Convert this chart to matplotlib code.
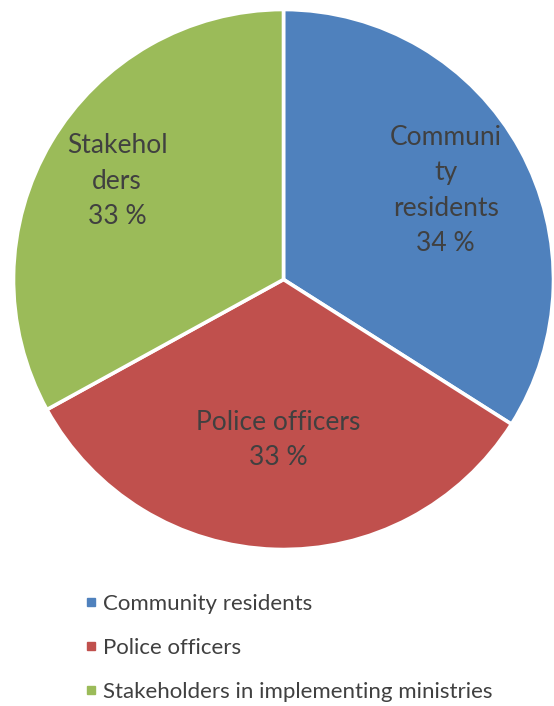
import matplotlib
matplotlib.use("Agg")
import matplotlib.pyplot as plt
import numpy as np
from matplotlib.lines import Line2D

categories = ["Community residents", "Police officers", "Stakeholders in implementing ministries"]
values = [34, 33, 33]
slice_labels = ["Communi\nty\nresidents", "Police officers", "Stakehol\nders"]
colors = ["#4F81BD", "#C0504D", "#9BBB59"]
label_dist = [0.685, 0.594, 0.716]
text_color = "#404040"

plt.rcParams['font.family'] = ['Lato', 'DejaVu Sans']

W, H = 554, 706
fig = plt.figure(figsize=(W / 100, H / 100), dpi=100)
cx, cy, r = 283.5, 279.5, 270
ax = fig.add_axes([(cx - r) / W, (H - cy - r) / H, 2 * r / W, 2 * r / H])

wedges, _ = ax.pie(values, colors=colors, startangle=90, counterclock=False,
                   radius=1, wedgeprops=dict(edgecolor="white", linewidth=2.6))
ax.set_xlim(-1, 1)
ax.set_ylim(-1, 1)
ax.set_aspect("equal")
ax.axis("off")

total = sum(values)
for w, lab, v, d in zip(wedges, slice_labels, values, label_dist):
    mid = np.deg2rad((w.theta1 + w.theta2) / 2)
    ax.text(d * np.cos(mid), d * np.sin(mid), f"{lab}\n{round(100 * v / total)} %",
            ha="center", va="center", fontsize=19, color=text_color,
            linespacing=1.52)

handles = [Line2D([0], [0], marker="s", linestyle="none", markersize=6,
                  markerfacecolor=c, markeredgecolor=c) for c in colors]
fig.legend(handles, categories, loc="upper left", bbox_to_anchor=(82 / W, 1 - 594 / H),
           frameon=False, fontsize=16, labelcolor=text_color, handlelength=0.8,
           handletextpad=0.15, labelspacing=1.08, borderaxespad=0, borderpad=0)

fig.savefig("out.png", dpi=100)
